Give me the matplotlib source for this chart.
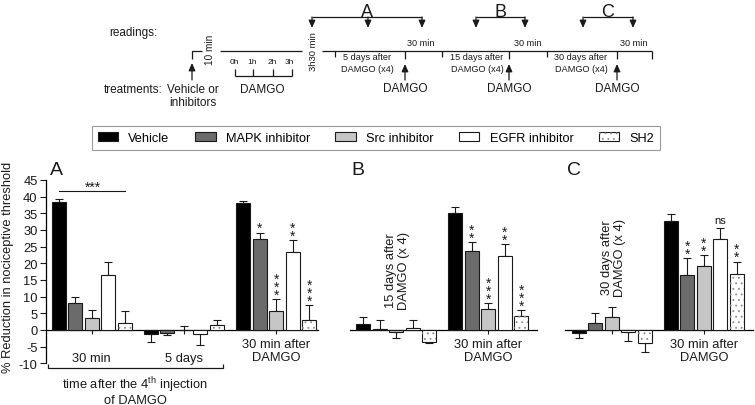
# Nociceptive threshold reduction after repeated DAMGO, with inhibitor treatments
import numpy as np
import matplotlib
matplotlib.use('Agg')
import matplotlib.pyplot as plt

plt.rcParams['font.family'] = ['Liberation Sans', 'DejaVu Sans']
plt.rcParams['mathtext.fontset'] = 'custom'
plt.rcParams['mathtext.rm'] = 'Liberation Sans'
plt.rcParams['axes.unicode_minus'] = False
plt.rcParams['hatch.linewidth'] = 0.6

# Treatments and bar colours
treatments = ['Vehicle', 'MAPK inhibitor', 'Src inhibitor', 'EGFR inhibitor', 'SH2']
face = ['#000000', '#6b6b6b', '#c6c6c6', '#ffffff', '#ffffff']

# Panel A
a_30min = [38.5, 8.0, 3.5, 16.5, 2.0]
a_30min_err = [0.7, 2.0, 2.5, 3.8, 3.7]
a_5days = [-1.2, -0.8, 0.0, -1.2, 1.5]
a_5days_err = [2.3, 0.6, 1.2, 3.3, 1.5]
a_damgo = [38.0, 27.3, 5.7, 23.3, 3.0]
a_damgo_err = [0.8, 1.9, 3.5, 3.6, 4.5]
a_damgo_sig = ['', '*', '***', '**', '***']

# Panel B
b_15days = [1.8, 0.3, -0.5, 0.6, -3.6]
b_15days_err = [2.2, 2.7, 2.0, 2.4, 0.3]
b_damgo = [35.2, 23.6, 6.2, 22.3, 4.2]
b_damgo_err = [1.8, 2.8, 1.9, 3.4, 1.8]
b_damgo_sig = ['', '**', '***', '**', '***']

# Panel C
c_30days = [-0.9, 2.0, 3.8, -0.7, -3.9]
c_30days_err = [1.5, 3.1, 3.2, 2.6, 2.7]
c_damgo = [32.8, 16.4, 19.2, 27.3, 16.9]
c_damgo_err = [2.0, 5.2, 3.3, 3.2, 3.6]
c_damgo_sig = ['', '**', '**', 'ns', '**']

INK = '#1a1a1a'
W, H = 755, 406
PX = 16.5              # pixels per bar slot
Y0, Y1 = 364.3, 181.0  # pixel rows of y=-10 and y=45
GAP = 5.6              # distance between group centres (bar slots)

fig = plt.figure(figsize=(W / 100, H / 100), dpi=100)


def panel(left_px, xlim, yaxis=False):
    w = (xlim[1] - xlim[0]) * PX
    ax = fig.add_axes([left_px / W, (H - Y0) / H, w / W, (Y0 - Y1) / H])
    ax.set_xlim(*xlim)
    ax.set_ylim(-10, 45)
    ax.set_facecolor('none')
    for s in ['top', 'right']:
        ax.spines[s].set_visible(False)
    ax.spines['bottom'].set_position(('data', 0))
    ax.spines['bottom'].set_linewidth(0.9)
    ax.tick_params(axis='x', length=3, width=0.8, labelbottom=False, color=INK)
    if yaxis:
        ax.spines['left'].set_linewidth(0.9)
        ax.set_yticks(range(-10, 50, 5))
        ax.tick_params(axis='y', length=4, width=0.8, pad=2, labelsize=9.3,
                       colors=INK)
    else:
        ax.spines['left'].set_visible(False)
        ax.set_yticks([])
    return ax


def group(ax, center, vals, errs, sig=None):
    x = center + np.arange(5) - 2
    v = np.array(vals)
    e = np.array(errs)
    bars = ax.bar(x, v, 0.85, color=face, edgecolor=INK, linewidth=0.8, zorder=3)
    dots = ax.bar(x[4], v[4], 0.85, color='none', edgecolor='#8c8c8c',
                  hatch='...', linewidth=0, zorder=3.5)
    lo = np.where(v < 0, e, 0)
    hi = np.where(v >= 0, e, 0)
    ax.errorbar(x, v, yerr=[lo, hi], fmt='none', ecolor=INK, elinewidth=0.8,
                capsize=2.9, capthick=0.8, zorder=2)
    if sig is not None:
        for xi, vi, ei, s in zip(x, v, e, sig):
            tip = vi + ei
            if s == 'ns':
                ax.annotate('ns', (xi, tip), xytext=(0, 4), textcoords='offset points',
                            ha='center', va='baseline', fontsize=8, color=INK)
            elif s:
                # stars stacked one above the other
                ax.annotate('\n'.join(s), (xi, tip), xytext=(0, 0.4),
                            textcoords='offset points', ha='center',
                            va='baseline', fontsize=10, color=INK,
                            linespacing=0.45)
    return bars, dots


# ---- panel A
axA = panel(46, (-2.76, 13.73), yaxis=True)
hA, dA = group(axA, 0, a_30min, a_30min_err)
group(axA, GAP, a_5days, a_5days_err)
group(axA, 2 * GAP, a_damgo, a_damgo_err, a_damgo_sig)
axA.set_xticks([0, GAP, 2 * GAP])
axA.plot([-2, 2], [41.7, 41.7], color=INK, lw=0.8)
axA.text(0.1, 41.7, '***', ha='center', va='baseline', fontsize=10, color=INK)
axA.text(0, -8.4, '30 min', ha='center', va='center', fontsize=9.3, color=INK)
axA.text(GAP, -8.4, '5 days', ha='center', va='center', fontsize=9.3, color=INK)
axA.text(2 * GAP, -6.15, '30 min after\nDAMGO', ha='center', va='center',
         fontsize=9.3, color=INK, linespacing=1.15)

# ---- panel B
axB = panel(350, (-2.79, 8.55))
group(axB, 0, b_15days, b_15days_err)
group(axB, GAP, b_damgo, b_damgo_err, b_damgo_sig)
axB.set_xticks([0, GAP])
axB.text(0.1, 6.3, '15 days after\nDAMGO (x 4)', rotation=90, ha='center',
         va='bottom', fontsize=9.3, color=INK, linespacing=1.15)
axB.text(GAP, -6.15, '30 min after\nDAMGO', ha='center', va='center',
         fontsize=9.3, color=INK, linespacing=1.15)

# ---- panel C
axC = panel(565, (-2.82, 8.58))
group(axC, 0, c_30days, c_30days_err)
group(axC, GAP, c_damgo, c_damgo_err, c_damgo_sig)
axC.set_xticks([0, GAP])
axC.text(0.1, 10.2, '30 days after\nDAMGO (x 4)', rotation=90, ha='center',
         va='bottom', fontsize=9.3, color=INK, linespacing=1.15)
axC.text(GAP, -6.15, '30 min after\nDAMGO', ha='center', va='center',
         fontsize=9.3, color=INK, linespacing=1.15)

# ---- legend
handles = [hA[0], hA[1], hA[2], hA[3], (hA[4], dA[0])]
leg = fig.legend(handles, treatments, loc='center',
                 bbox_to_anchor=(92 / W, 1 - 151 / H, (660 - 92) / W, 24 / H),
                 mode='expand', ncol=5, fancybox=False, edgecolor='#808080',
                 fontsize=9.2, handlelength=1.6, handleheight=0.65,
                 handletextpad=0.8, borderpad=0.45, borderaxespad=0)
leg.get_frame().set_linewidth(0.8)

# ---- overlay in pixel coordinates for the timeline and free texts
ov = fig.add_axes([0, 0, 1, 1], zorder=5)
ov.set_xlim(0, W)
ov.set_ylim(H, 0)
ov.axis('off')


def seg(xs, ys):
    ov.plot(xs, ys, color=INK, lw=0.9, solid_capstyle='butt')


def arrow(x, y_from, y_to):
    ov.annotate('', xy=(x, y_to), xytext=(x, y_from),
                arrowprops=dict(arrowstyle='-|>,head_length=0.45,head_width=0.2',
                                color=INK, lw=0.9, shrinkA=0, shrinkB=0,
                                mutation_scale=10))


def txt(x, y, s, size, **kw):
    kw.setdefault('ha', 'center')
    kw.setdefault('va', 'center')
    ov.text(x, y, s, fontsize=size, color=INK, **kw)


txt(158, 33, 'readings:', 8.5, ha='right')
txt(163, 90, 'treatments:', 8.5, ha='right')
txt(192.5, 96.5, 'Vehicle or\ninhibitors', 8.5, linespacing=1.1)
arrow(192, 81, 64)
seg([192, 192, 202], [60, 52, 52])
txt(210, 50, '10 min', 7.2, rotation=90)
seg([220, 302], [52, 52])
for hx, hl in zip([234, 252, 272, 289], ['0h', '1h', '2h', '3h']):
    txt(hx, 63, hl, 6)
seg([235, 292], [77, 77])
for hx in [235, 253, 273, 292]:
    seg([hx, hx], [77, 70])
txt(262, 90, 'DAMGO', 8.5)
txt(313, 52, '3h30 min', 6.8, rotation=90)

# main timeline after 3h30
seg([322, 652], [52, 52])
for tx in [335, 442, 547]:
    seg([tx, tx], [52, 58])
for tx in [405, 509, 617, 652]:
    seg([tx, tx], [52, 60])
for cx, lab in zip([367, 477, 581], ['5 days after', '15 days after', '30 days after']):
    txt(cx, 63.5, lab + '\nDAMGO (x4)', 6.6, linespacing=1.3)
for cx in [421, 528, 634]:
    txt(cx, 44, '30 min', 6.6)
for dx in [405, 509, 617]:
    arrow(dx, 81, 65)
    txt(dx, 89, 'DAMGO', 8.5)

# reading brackets
for xs, lab, lx in [([312, 368, 422], 'A', 367), ([476, 525], 'B', 501),
                    ([583, 633], 'C', 608)]:
    seg([xs[0], xs[-1]], [18, 18])
    for ax_ in xs:
        arrow(ax_, 18, 29)
    txt(lx, 17, lab, 13, va='baseline')

# panel letters and axis texts
txt(56.5, 175, 'A', 14, va='baseline')
txt(358, 175, 'B', 14, va='baseline')
txt(574.5, 175, 'C', 14, va='baseline')
txt(8, 267, '% Reduction in nociceptive threshold', 9.3, rotation=90)
seg([48, 48, 223, 223], [365, 369, 369, 365])
txt(135, 391.5, 'time after the 4$^{\\rm th}$ injection\nof DAMGO', 9.3,
    linespacing=1.0)

fig.savefig('out.png', dpi=100)
